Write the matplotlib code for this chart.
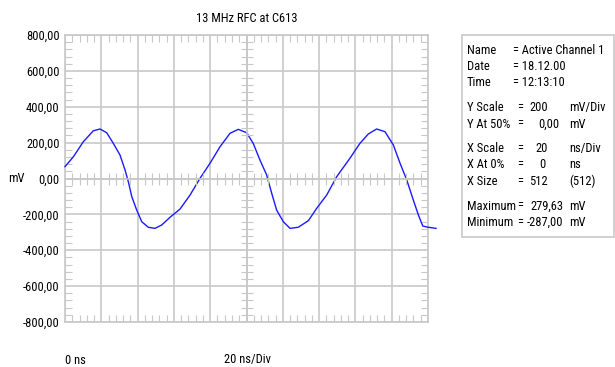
import matplotlib
matplotlib.use("Agg")
import matplotlib.pyplot as plt
from matplotlib.ticker import MultipleLocator

# trace (time in ns, voltage in mV)
t_ns = [0.0, 4.6, 10.1, 15.6, 19.3, 23.0, 26.6, 30.3, 33.1, 34.9, 36.8, 39.5,
        42.3, 45.9, 49.6, 53.3, 57.9, 63.4, 68.9, 74.4, 79.9, 85.4, 90.9, 95.5,
        100.1, 103.7, 107.4, 111.1, 113.9, 116.6, 120.3, 124.0, 128.5, 134.1,
        138.7, 144.2, 149.7, 157.0, 162.5, 167.1, 171.7, 176.3, 180.9, 184.6,
        188.3, 191.9, 194.7, 197.1, 200.2, 204.4]
v_mv = [66, 121, 205, 266, 276, 255, 196, 131, 47, -18, -101, -176,
        -241, -272, -278, -259, -216, -170, -92, 1, 85, 177, 252, 274,
        255, 196, 103, 20, -83, -176, -241, -278, -272, -235,
        -166, -92, 10, 113, 196, 248, 276, 261, 187, 85,
        -8, -120, -203, -265, -272, -278]

y_ticks = [-800, -600, -400, -200, 0, 200, 400, 600, 800]
y_labels = ["-800,00", "-600,00", "-400,00", "-200,00", "0,00",
            "200,00", "400,00", "600,00", "800,00"]

title = "13 MHz RFC at C613"

info_rows = [
    ("Name", "= Active Channel 1", "", ""),
    ("Date", "= 18.12.00", "", ""),
    ("Time", "= 12:13:10", "", ""),
    ("Y Scale", "=", "200", "mV/Div"),
    ("Y At 50%", "=", "0,00", "mV"),
    ("X Scale", "=", "20", "ns/Div"),
    ("X At 0%", "=", "0", "ns"),
    ("X Size", "=", "512", "(512)"),
    ("Maximum", "=", "279,63", "mV"),
    ("Minimum", "=", "-287,00", "mV"),
]
info_y = [50, 66.5, 83, 107.5, 124, 148.5, 165, 181.5, 206, 222.5]
val_right = [0, 0, 0, 548, 559, 548, 546, 548, 563, 563]

plt.rcParams['font.family'] = ['Roboto Condensed', 'DejaVu Sans']
FS = 9
GRID = "#c8c8c8"
W, H = 615, 367

fig = plt.figure(figsize=(6.15, 3.67), dpi=100)
fig.patch.set_facecolor("white")

pos = [65 / W, 1 - 322 / H, 363 / W, 287 / H]
ax = fig.add_axes(pos)
ax.set_xlim(0, 200)
ax.set_ylim(-800, 800)

ax.plot(t_ns, v_mv, color="#1a1aff", lw=1.0, clip_on=False, zorder=5)

ax.xaxis.set_major_locator(MultipleLocator(20))
ax.xaxis.set_minor_locator(MultipleLocator(4))
ax.set_yticks(y_ticks)
ax.set_yticklabels(y_labels, fontsize=FS)
ax.yaxis.set_minor_locator(MultipleLocator(40))
ax.grid(True, which="major", color=GRID, lw=1.2, zorder=0)
ax.tick_params(which="major", length=0, pad=4, labelbottom=False)
ax.tick_params(which="minor", direction="in", length=5, width=0.8,
               color=GRID, top=True, right=True)
for s in ax.spines.values():
    s.set_color(GRID)
    s.set_linewidth(1.2)

# center cross with its own ticks
ax2 = fig.add_axes(pos, sharex=ax, sharey=ax)
ax2.patch.set_visible(False)
ax2.spines["top"].set_visible(False)
ax2.spines["right"].set_visible(False)
ax2.spines["left"].set_position(("data", 100))
ax2.spines["bottom"].set_position(("data", 0))
for s in ("left", "bottom"):
    ax2.spines[s].set_color(GRID)
    ax2.spines[s].set_linewidth(1.2)
ax2.tick_params(which="major", length=0, labelleft=False, labelbottom=False)
ax2.tick_params(which="minor", direction="inout", length=9, width=0.8, color=GRID)

fig.text(247 / W, 1 - 18 / H, title, ha="center", va="center", fontsize=FS)
fig.text(8 / W, 1 - 179 / H, "mV", ha="left", va="center", fontsize=FS)
fig.text(65 / W, 1 - 360 / H, "0 ns", ha="left", va="center", fontsize=FS)
fig.text(247 / W, 1 - 360 / H, "20 ns/Div", ha="center", va="center", fontsize=FS)

# info panel
box = plt.Rectangle((462 / W, 1 - 237 / H), 152 / W, 202 / H,
                    transform=fig.transFigure, facecolor="white",
                    edgecolor=GRID, lw=1.2)
fig.patches.append(box)
for (lab, eq, val, unit), yy, vr in zip(info_rows, info_y, val_right):
    y = 1 - yy / H
    fig.text(467 / W, y, lab, ha="left", va="center", fontsize=FS)
    if val == "":
        fig.text(513 / W, y, eq, ha="left", va="center", fontsize=FS)
    else:
        fig.text(517 / W, y, eq, ha="left", va="center", fontsize=FS)
        fig.text(vr / W, y, val, ha="right", va="center", fontsize=FS)
        fig.text(569 / W, y, unit, ha="left", va="center", fontsize=FS)

fig.savefig("out.png", dpi=100, facecolor="white")
